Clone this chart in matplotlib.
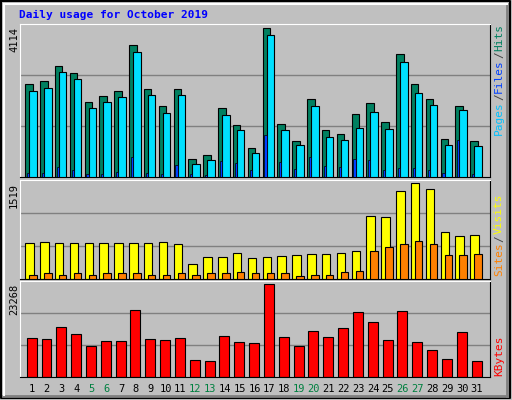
import matplotlib
matplotlib.use("Agg")
import matplotlib.pyplot as plt
import numpy as np

days = list(range(1, 32))
weekend = [5, 6, 12, 13, 19, 20, 26, 27]
hits = [2571, 2655, 3076, 2880, 2066, 2235, 2375, 3665, 2431, 1954, 2431, 496, 608, 1898, 1449, 804,
        4114, 1477, 1000, 2151, 1309, 1197, 1758, 2038, 1533, 3413, 2571, 2151, 1057, 1954, 1000]
files = [2375, 2459, 2908, 2712, 1898, 2066, 2207, 3469, 2263, 1786, 2263, 355, 468, 1730, 1309, 664,
         3946, 1309, 888, 1954, 1113, 1029, 1365, 1814, 1337, 3188, 2319, 1982, 888, 1842, 860]
pages = [103, 103, 281, 187, 75, 75, 131, 552, 103, 75, 327, 75, 47, 439, 383, 187,
         1169, 411, 215, 552, 299, 271, 496, 468, 187, 243, 243, 187, 103, 1029, 75]
visits = [565, 581, 565, 565, 565, 565, 565, 565, 565, 581, 548, 236, 351, 351, 417, 335,
          351, 367, 384, 400, 400, 417, 450, 993, 976, 1387, 1519, 1420, 746, 680, 696]
sites = [71, 88, 71, 88, 71, 88, 88, 88, 71, 71, 88, 71, 88, 88, 104, 88,
         88, 88, 55, 71, 71, 104, 121, 450, 499, 548, 598, 548, 384, 384, 400]
kbytes = [9766, 9510, 12568, 10785, 7728, 9002, 9002, 16644, 9510, 9256, 9766, 4161, 3906, 10275, 8747, 8492,
          23268, 10020, 7728, 11549, 10020, 12313, 16135, 13842, 9256, 16390, 8747, 6709, 4416, 11294, 3906]

W, H = 512, 400
BG = "#C0C0C0"
mono = "DejaVu Sans Mono"
XL, XR = 0.19, 31.88
fig = plt.figure(figsize=(W / 100, H / 100), dpi=100, facecolor=BG)

def rect(x0, y0, x1, y1):
    return [x0 / W, 1 - y1 / H, (x1 - x0) / W, (y1 - y0) / H]

frame = fig.add_axes([0, 0, 1, 1], facecolor="none")
frame.set_xlim(0, W); frame.set_ylim(H, 0); frame.axis("off")
frame.plot([1, W - 2, W - 2, 1, 1], [1, 1, H - 2, H - 2, 1], color="black", lw=1.5)
frame.plot([3, W - 5], [H - 4, H - 4], color="#808080", lw=2)
frame.plot([W - 5, W - 5], [4, H - 4], color="#808080", lw=2)
frame.plot([4, 4], [4, H - 5], color="white", lw=1.5)
frame.plot([4, W - 5], [4, 4], color="white", lw=1.5)

fig.text(19 / W, 1 - 15 / H, "Daily usage for October 2019", color="#0000FF", fontsize=8,
         fontweight="bold", family=mono, va="center", ha="left")

x = np.array(days)

def panel(y0, y1, mx):
    ax = fig.add_axes(rect(20, y0, 490, y1), facecolor=BG)
    ax.set_xlim(XL, XR)
    top = mx * 1.03
    ax.set_ylim(0, top)
    for f in (1 / 3, 2 / 3):
        ax.axhline(top * f, color="#808080", lw=1, zorder=0)
    ax.set_xticks([]); ax.set_yticks([])
    for k, s in ax.spines.items():
        s.set_color("white" if k in ("top", "left") else "black")
    fig.text(14 / W, 1 - (y0 + 3) / H, f"{mx}", rotation=90, fontsize=7.5, family=mono,
             va="top", ha="center")
    return ax

ax1 = panel(24, 177, max(hits))
ax1.bar(x - 0.45, hits, width=0.5, align="edge", color="#008060", edgecolor="black", lw=0.8, zorder=2)
ax1.bar(x - 0.18, files, width=0.5, align="edge", color="#00E0FF", edgecolor="black", lw=0.8, zorder=3)
ax1.bar(x - 0.33, pages, width=0.15, align="edge", color="#0040FF", edgecolor="black", lw=0.5, zorder=4)

ax2 = panel(180, 279, max(visits))
ax2.bar(x - 0.45, visits, width=0.57, align="edge", color="#FFFF00", edgecolor="black", lw=0.8, zorder=2)
ax2.bar(x - 0.18, sites, width=0.5, align="edge", color="#FF8000", edgecolor="black", lw=0.8, zorder=3)

ax3 = panel(281, 377, max(kbytes))
ax3.bar(x - 0.36, kbytes, width=0.67, align="edge", color="#FF0000", edgecolor="black", lw=0.8, zorder=2)

for d in days:
    xp = 20 + (d - XL) / (XR - XL) * 470
    fig.text(xp / W, 1 - 389 / H, str(d), fontsize=7.5, family=mono, ha="center", va="center",
             color="#008040" if d in weekend else "black")

def side(parts, ybottom):
    y = ybottom
    for txt, col in parts:
        fig.text(499 / W, 1 - y / H, txt, rotation=90, color=col, fontsize=8, family=mono,
                 ha="center", va="bottom")
        y -= len(txt) * 6.7 + 1

side([("Pages", "#00C0FF"), ("/", "#404040"), ("Files", "#0040FF"), ("/", "#404040"), ("Hits", "#008060")], 135)
side([("Sites", "#FF8000"), ("/", "#404040"), ("Visits", "#FFFF00")], 276)
side([("KBytes", "#FF0000")], 376)

fig.savefig("out.png", dpi=100, facecolor=BG)
